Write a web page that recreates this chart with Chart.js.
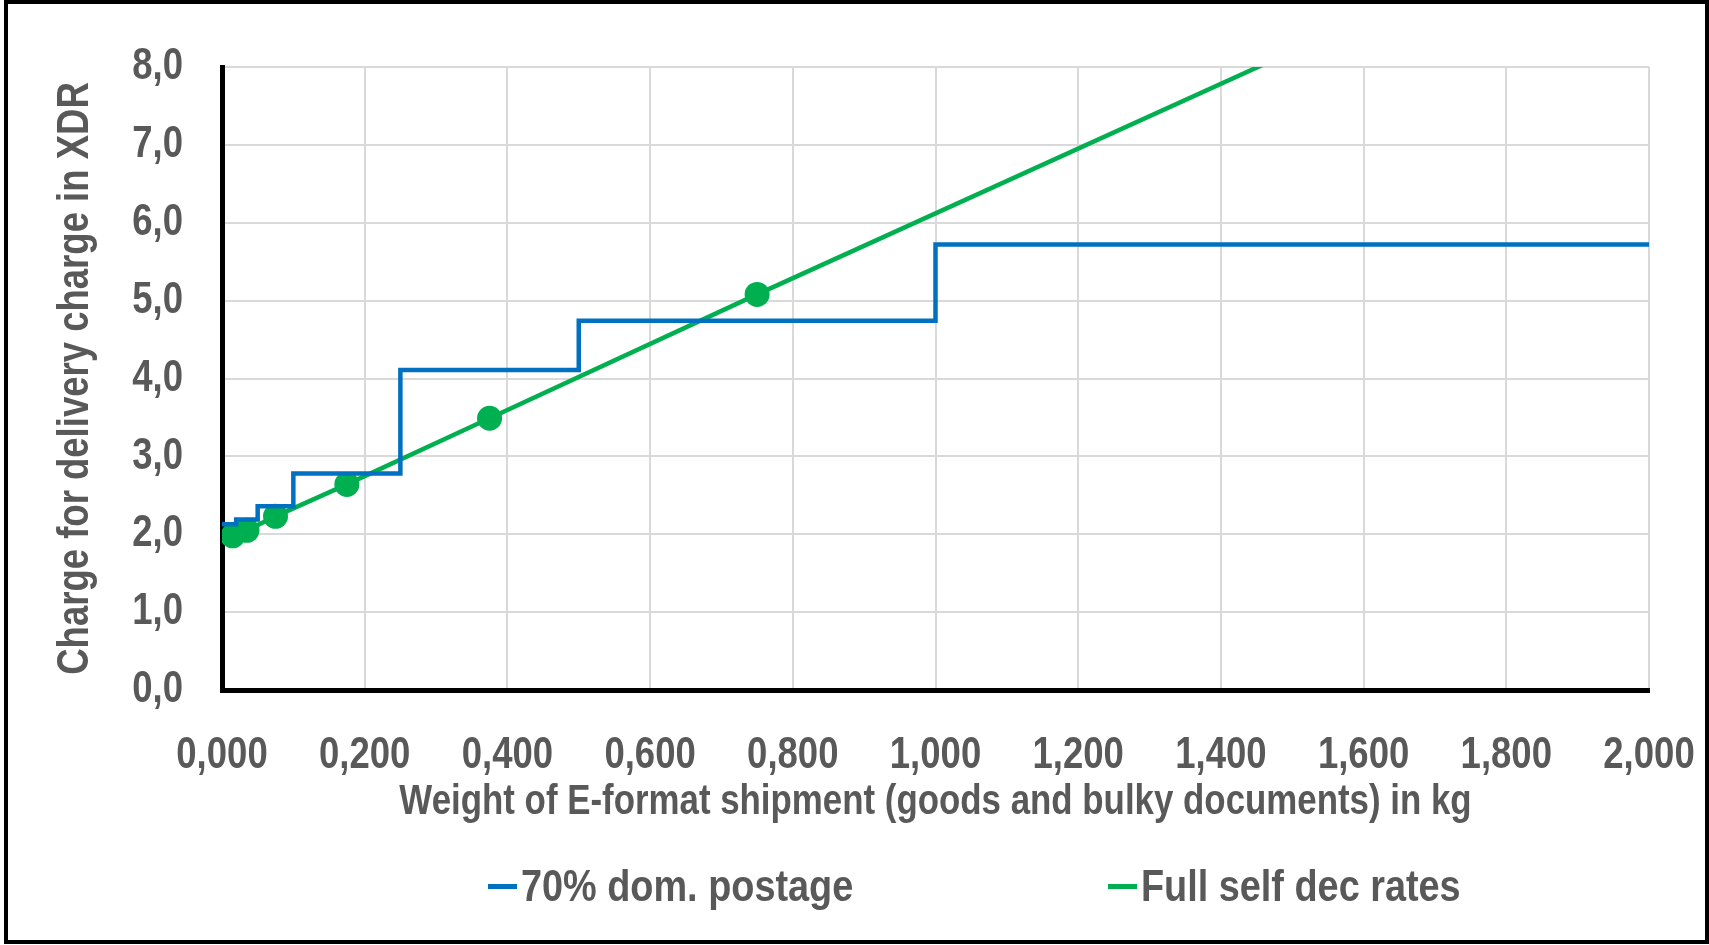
<!DOCTYPE html>
<html>
<head>
<meta charset="utf-8">
<script src="https://cdn.jsdelivr.net/npm/chart.js@4.4.1/dist/chart.umd.min.js"></script>
<style>
  html, body { margin: 0; padding: 0; background: #fff; width: 1709px; height: 945px; overflow: hidden; }
  #c { position: absolute; left: 0; top: 0; }
  #frame { position: absolute; left: 4px; top: 0; width: 1705px; height: 944px; box-sizing: border-box; border: 4px solid #000; pointer-events: none; }
  .leg { position: absolute; top: 860px; height: 52px; display: flex; align-items: center; font-family: "Liberation Sans", Arial, sans-serif; font-weight: bold; font-size: 44px; color: #595959; white-space: nowrap; }
  .leg i { display: inline-block; width: 29px; height: 5px; margin-right: 4px; flex: none; }
  .leg span { display: inline-block; transform: scaleX(0.86); transform-origin: 0 50%; }
</style>
</head>
<body>
<canvas id="c" width="1709" height="945"></canvas>
<div id="frame"></div>
<div class="leg" id="leg1" style="left:488px"><i style="background:#0070C0"></i><span id="legText1"></span></div>
<div class="leg" id="leg2" style="left:1108px"><i style="background:#00B050"></i><span id="legText2"></span></div>
<script>
// ---- data ----
const seriesNames = ['70% dom. postage', 'Full self dec rates'];
const xTickLabels = ['0,000','0,200','0,400','0,600','0,800','1,000','1,200','1,400','1,600','1,800','2,000'];
const yTickLabels = ['0,0','1,0','2,0','3,0','4,0','5,0','6,0','7,0','8,0'];
const blueWeights = [0, 0.02, 0.05, 0.1, 0.25, 0.5, 1.0, 2.0];
const blueCharges = [2.13, 2.19, 2.36, 2.78, 4.11, 4.74, 5.72, 5.72];
const greenWeights = [0.015, 0.035, 0.075, 0.175, 0.375, 0.75, 1.5];
const greenCharges = [1.98, 2.05, 2.23, 2.64, 3.49, 5.08, 8.2];
const xTitle = 'Weight of E-format shipment (goods and bulky documents) in kg';
const yTitle = 'Charge for delivery charge in XDR';

document.getElementById('legText1').textContent = seriesNames[0];
document.getElementById('legText2').textContent = seriesNames[1];

// condensed text rendering (the reference uses a narrow bold face)
const SX = 0.83;
const P = CanvasRenderingContext2D.prototype;
const origFill = P.fillText;
const origMeasure = P.measureText;
P.fillText = function (text, x, y, maxWidth) {
  this.save();
  this.translate(x, y);
  this.scale(SX, 1);
  if (maxWidth !== undefined) origFill.call(this, text, 0, 0, maxWidth / SX);
  else origFill.call(this, text, 0, 0);
  this.restore();
};
P.measureText = function (text) {
  const m = origMeasure.call(this, text);
  return {
    width: m.width * SX,
    actualBoundingBoxAscent: m.actualBoundingBoxAscent,
    actualBoundingBoxDescent: m.actualBoundingBoxDescent,
    actualBoundingBoxLeft: m.actualBoundingBoxLeft * SX,
    actualBoundingBoxRight: m.actualBoundingBoxRight * SX
  };
};

const FAMILY = '"Liberation Sans", Arial, sans-serif';
const FONT = { family: FAMILY, weight: 'bold', size: 44 };
const XTITLE_FONT = { family: FAMILY, weight: 'bold', size: 42 };
const TXT = '#595959';
const Y_MAX = 8;

new Chart(document.getElementById('c'), {
  type: 'line',
  data: {
    datasets: [
      {
        label: seriesNames[0],
        data: blueWeights.map((w, i) => ({ x: w, y: blueCharges[i] })),
        borderColor: '#0070C0',
        backgroundColor: '#0070C0',
        borderWidth: 4.5,
        stepped: 'before',
        pointRadius: 0,
        fill: false
      },
      {
        label: seriesNames[1],
        data: greenWeights.map((w, i) => ({ x: w, y: greenCharges[i] })),
        borderColor: '#00B050',
        backgroundColor: '#00B050',
        borderWidth: 4.5,
        pointRadius: ctx => (ctx.raw && ctx.raw.y > Y_MAX ? 0 : 12.5),
        pointBorderWidth: 0,
        pointBackgroundColor: '#00B050',
        fill: false
      }
    ]
  },
  options: {
    responsive: false,
    devicePixelRatio: 1,
    animation: false,
    layout: { padding: { left: 25, top: 67, right: 60, bottom: 0 } },
    plugins: { legend: { display: false }, tooltip: { enabled: false } },
    scales: {
      x: {
        type: 'linear',
        min: 0, max: 2,
        ticks: {
          stepSize: 0.2, autoSkip: false, maxRotation: 0, padding: 39,
          color: TXT, font: FONT,
          callback: (v, i) => xTickLabels[i]
        },
        grid: { color: '#d9d9d9', lineWidth: 2, drawTicks: false },
        border: { color: '#000', width: 5 },
        title: { display: true, text: xTitle, color: TXT, font: XTITLE_FONT, padding: { top: 0, bottom: 117 } },
        afterFit: s => { s.height = 255; s.paddingLeft = 0; s.paddingRight = 0; }
      },
      y: {
        type: 'linear',
        min: 0, max: Y_MAX,
        ticks: {
          stepSize: 1, padding: 39, color: TXT, font: FONT,
          callback: (v, i) => yTickLabels[i]
        },
        grid: { color: '#d9d9d9', lineWidth: 2, drawTicks: false },
        border: { color: '#000', width: 5 },
        title: { display: true, text: yTitle, color: TXT, font: FONT, padding: { top: 24, bottom: 0 } },
        afterFit: s => { s.width = 197; s.paddingTop = 0; s.paddingBottom = 0; }
      }
    }
  }
});
</script>
</body>
</html>
